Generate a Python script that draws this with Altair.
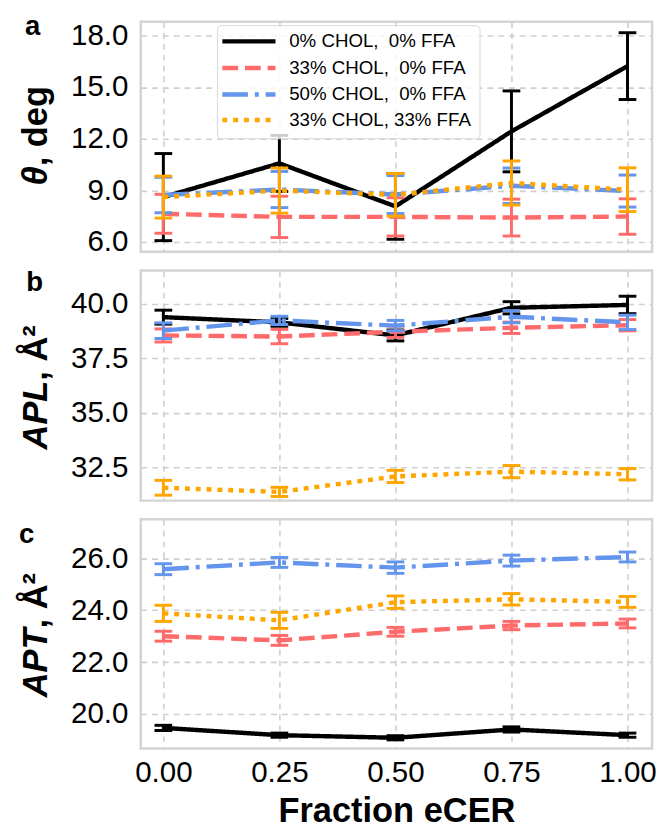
import altair as alt
import pandas as pd

# ---------------- data ----------------
x_vals = [0.0, 0.25, 0.5, 0.75, 1.0]
series_names = ["0% CHOL, 0% FFA", "33% CHOL, 0% FFA", "50% CHOL, 0% FFA", "33% CHOL, 33% FFA"]
legend_labels = ["\u00a00% CHOL,\u00a0\u00a00% FFA", "33% CHOL,\u00a0\u00a00% FFA",
                 "50% CHOL,\u00a0\u00a00% FFA", "33% CHOL, 33% FFA"]

# panel a : tilt angle theta (deg)
theta_mean = [
    [8.61, 10.57, 8.07, 12.43, 16.22],
    [7.64, 7.46, 7.46, 7.42, 7.48],
    [8.73, 9.05, 8.76, 9.27, 8.96],
    [8.61, 8.99, 8.74, 9.43, 9.04],
]
theta_err = [
    [2.53, 1.63, 1.91, 2.35, 1.94],
    [1.13, 1.20, 1.11, 1.07, 1.03],
    [1.03, 1.05, 1.10, 1.03, 0.93],
    [1.22, 1.31, 1.24, 1.28, 1.27],
]
# panel b : area per lipid
apl_mean = [
    [39.39, 39.15, 38.55, 39.82, 39.95],
    [38.55, 38.50, 38.72, 38.90, 39.02],
    [38.77, 39.24, 39.00, 39.41, 39.15],
    [31.56, 31.37, 32.08, 32.30, 32.18],
]
apl_err = [
    [0.32, 0.18, 0.25, 0.28, 0.40],
    [0.30, 0.33, 0.26, 0.26, 0.26],
    [0.36, 0.19, 0.24, 0.28, 0.33],
    [0.34, 0.21, 0.28, 0.28, 0.26],
]
# panel c : area per tail
apt_mean = [
    [19.47, 19.19, 19.09, 19.41, 19.19],
    [23.00, 22.84, 23.17, 23.41, 23.49],
    [25.58, 25.84, 25.64, 25.91, 26.05],
    [23.88, 23.61, 24.31, 24.42, 24.32],
]
apt_err = [
    [0.10, 0.08, 0.08, 0.10, 0.08],
    [0.19, 0.19, 0.17, 0.16, 0.17],
    [0.21, 0.19, 0.22, 0.21, 0.19],
    [0.31, 0.31, 0.24, 0.22, 0.21],
]

y_ticks_a = [6.0, 9.0, 12.0, 15.0, 18.0]
y_ticks_b = [32.5, 35.0, 37.5, 40.0]
y_ticks_c = [20.0, 22.0, 24.0, 26.0]
y_dom_a = [5.43, 18.8]
y_dom_b = [30.97, 41.53]
y_dom_c = [18.68, 27.5]
x_dom = [-0.0487, 1.053]

# ---------------- styles ----------------
colors = ["#000000", "#ff6b6b", "#6495ed", "#ffa500"]
dashes = [[1, 0], [16, 7], [26, 7, 4, 7], [5, 6]]
FONT = "Liberation Sans"
W = 520


def make_panel(means, errs, ydom, yticks, height, show_x, title_it, title_rest,
               split_y, letter, letter_xy, legend=False):
    xs = alt.Scale(domain=x_dom, nice=False, zero=False)
    ys = alt.Scale(domain=ydom, nice=False, zero=False)
    if show_x:
        xaxis = alt.Axis(values=x_vals, format=".2f", labelFontSize=30, labelFont=FONT,
                         labelColor="black", labelPadding=10, ticks=False, tickSize=0,
                         domain=False, grid=True, title="Fraction eCER",
                         titleFont=FONT, titleFontSize=35, titleFontWeight="bold",
                         titleColor="black", titlePadding=6)
    else:
        xaxis = alt.Axis(values=x_vals, labels=False, ticks=False, tickSize=0,
                         domain=False, grid=True, title=None)
    yaxis = alt.Axis(values=yticks, format=".1f", labelFontSize=30, labelFont=FONT,
                     labelColor="black", labelPadding=13, ticks=False, tickSize=0,
                     domain=False, grid=True, title=None)
    layers = []
    for i in range(len(series_names)):
        df = pd.DataFrame({
            "x": x_vals,
            "y": means[i],
            "lo": [m - e for m, e in zip(means[i], errs[i])],
            "hi": [m + e for m, e in zip(means[i], errs[i])],
        })
        caps = pd.DataFrame({
            "x": x_vals + x_vals,
            "y": [m - e for m, e in zip(means[i], errs[i])] + [m + e for m, e in zip(means[i], errs[i])],
        })
        line = alt.Chart(df).mark_line(
            color=colors[i], strokeWidth=4.5, strokeDash=dashes[i], strokeCap="butt"
        ).encode(x=alt.X("x:Q", scale=xs, axis=xaxis), y=alt.Y("y:Q", scale=ys, axis=yaxis))
        rule = alt.Chart(df).mark_rule(color=colors[i], strokeWidth=3).encode(
            x=alt.X("x:Q", scale=xs, axis=xaxis), y=alt.Y("lo:Q", scale=ys, axis=yaxis), y2="hi:Q")
        tick = alt.Chart(caps).mark_tick(
            color=colors[i], orient="horizontal", size=18, thickness=3, opacity=1
        ).encode(x=alt.X("x:Q", scale=xs, axis=xaxis), y=alt.Y("y:Q", scale=ys, axis=yaxis))
        layers += [line, rule, tick]

    # y title (mixed italic / upright), rotated
    t1 = alt.Chart(pd.DataFrame({"t": [title_it]})).mark_text(
        angle=270, align="right", baseline="middle", font=FONT, fontSize=35,
        fontWeight="bold", fontStyle="italic", color="black"
    ).encode(x=alt.value(-106), y=alt.value(split_y), text="t:N")
    t2 = alt.Chart(pd.DataFrame({"t": [title_rest]})).mark_text(
        angle=270, align="left", baseline="middle", font=FONT, fontSize=35,
        fontWeight="bold", color="black"
    ).encode(x=alt.value(-106), y=alt.value(split_y), text="t:N")
    lt = alt.Chart(pd.DataFrame({"t": [letter]})).mark_text(
        align="center", baseline="alphabetic", font=FONT, fontSize=28,
        fontWeight="bold", color="black"
    ).encode(x=alt.value(letter_xy[0]), y=alt.value(letter_xy[1]), text="t:N")
    layers += [t1, t2, lt]

    if legend:
        box = alt.Chart(pd.DataFrame({"t": ["box"]})).mark_rect(
            fill="white", fillOpacity=0.8, stroke="#d8d8d8", strokeWidth=1, cornerRadius=4
        ).encode(x=alt.value(78), x2=alt.value(345), y=alt.value(4), y2=alt.value(119))
        layers.append(box)
        row_y = [20, 47, 74, 100]
        for i, lab in enumerate(legend_labels):
            sym = alt.Chart(pd.DataFrame({"t": [series_names[i]]})).mark_rule(
                color=colors[i], strokeWidth=4.5, strokeDash=dashes[i], strokeCap="butt"
            ).encode(x=alt.value(83), x2=alt.value(137), y=alt.value(row_y[i]))
            txt = alt.Chart(pd.DataFrame({"t": [lab]})).mark_text(
                align="left", baseline="middle", font=FONT, fontSize=19, color="black"
            ).encode(x=alt.value(151), y=alt.value(row_y[i]), text="t:N")
            layers += [sym, txt]

    return alt.layer(*layers).properties(width=W, height=height)


pa = make_panel(theta_mean, theta_err, y_dom_a, y_ticks_a, 234, False,
                "\u03b8", ", deg", 147, "a", (-110, 14), legend=True)
pb = make_panel(apl_mean, apl_err, y_dom_b, y_ticks_b, 234, False,
                "APL", ", \u00c5\u00b2", 112, "b", (-108, 21))
pc = make_panel(apt_mean, apt_err, y_dom_c, y_ticks_c, 233, True,
                "APT", ", \u00c5\u00b2", 111, "c", (-116, 24))

chart = alt.vconcat(pa, pb, pc, spacing=19, bounds="flush").properties(
    padding={"left": 9, "top": -3, "right": 0, "bottom": -7}
).configure_view(
    stroke="#d4d4d4", strokeWidth=2.5
).configure_axis(
    gridColor="#cfcfcf", gridDash=[6, 5], gridWidth=1.6
)

chart.save("out.html", embed_options={"renderer": "svg", "actions": False})
